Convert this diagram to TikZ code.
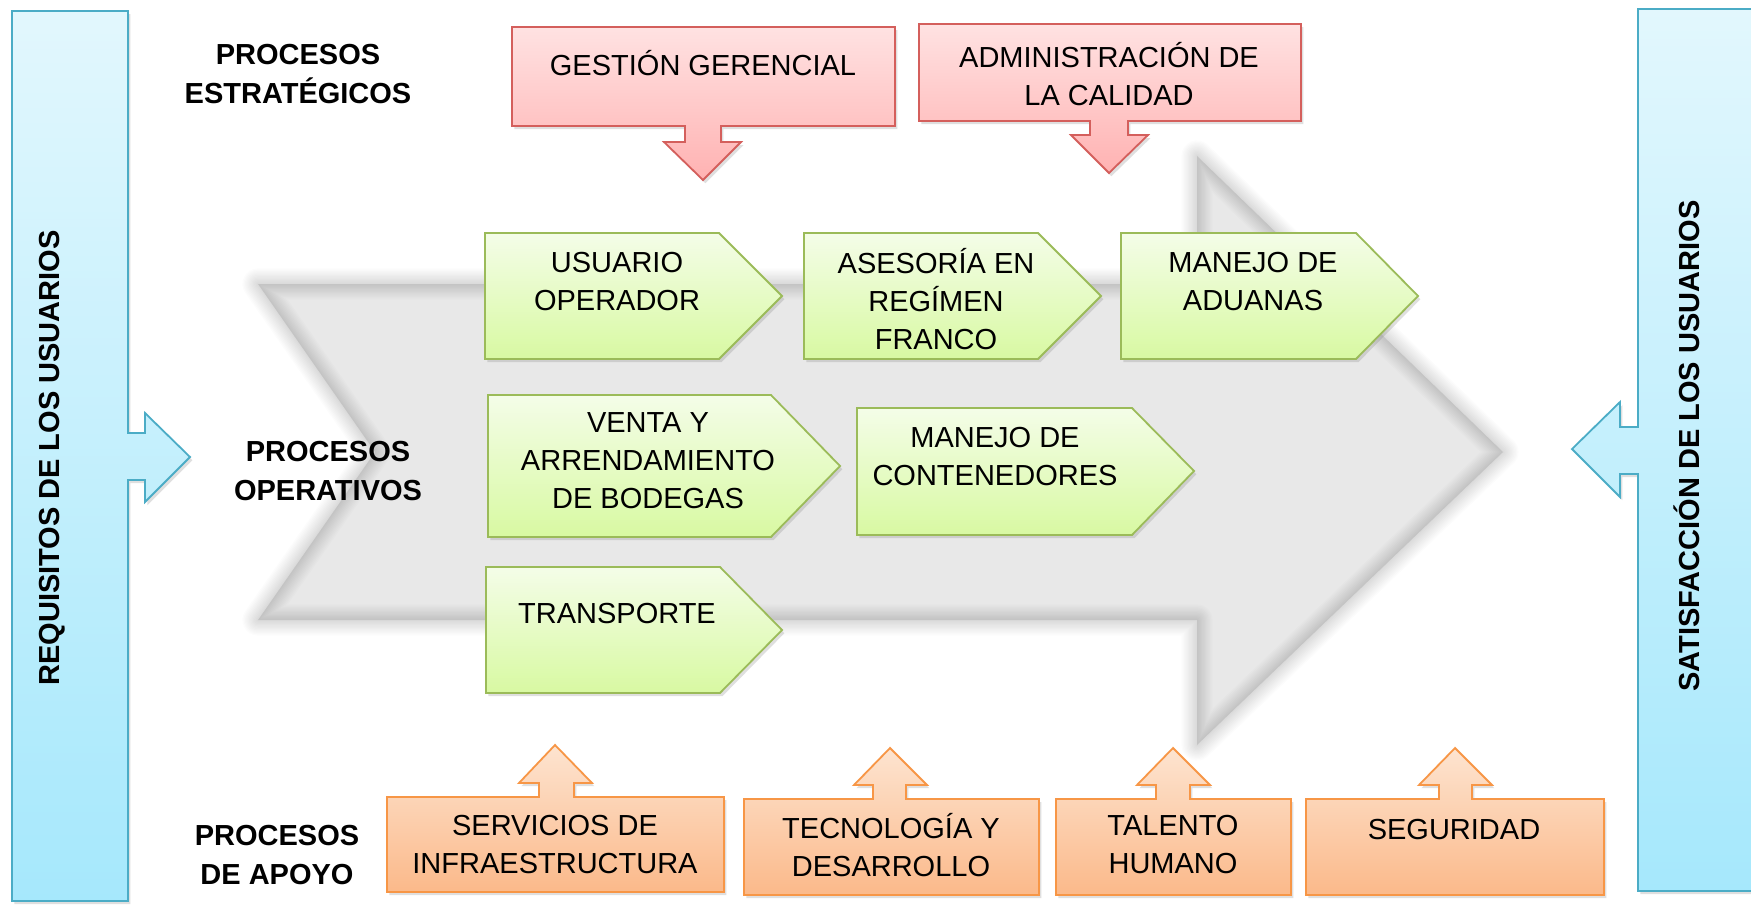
\documentclass[tikz,border=0pt]{standalone}
\usepackage{fontspec}
\setmainfont{Liberation Sans}
\usetikzlibrary{shadows}
\definecolor{redB}{RGB}{212,95,92}
\definecolor{redT}{RGB}{255,226,226}
\definecolor{redBt}{RGB}{255,178,178}
\definecolor{grnB}{RGB}{155,187,89}
\definecolor{grnT}{RGB}{244,253,232}
\definecolor{grnBt}{RGB}{216,249,162}
\definecolor{orgB}{RGB}{247,150,70}
\definecolor{orgT}{RGB}{253,228,208}
\definecolor{orgBt}{RGB}{251,185,138}
\definecolor{bluB}{RGB}{75,172,198}
\definecolor{bluT}{RGB}{226,247,253}
\definecolor{bluBt}{RGB}{166,232,252}
\definecolor{bgarrow}{RGB}{232,232,232}
\tikzset{
  shd/.style={drop shadow={opacity=0.25, shadow xshift=1.2pt, shadow yshift=-1.6pt}},
  redbox/.style={shd, draw=redB, line width=0.9pt, top color=redT, bottom color=redBt},
  grnbox/.style={shd, draw=grnB, line width=0.9pt, top color=grnT, bottom color=grnBt},
  orgbox/.style={shd, draw=orgB, line width=0.9pt, top color=orgT, bottom color=orgBt},
  blubox/.style={shd, draw=bluB, line width=0.9pt, top color=bluT, bottom color=bluBt},
  txt/.style={inner sep=0pt, align=center, font=\fontsize{14.5}{19}\selectfont},
  lbl/.style={inner sep=0pt, align=center, font=\fontsize{14.5}{19.5}\selectfont\bfseries},
}
\begin{document}
\begin{tikzpicture}[x=0.5pt,y=-0.5pt]
\useasboundingbox (0,0) rectangle (1751,906);
\fill[white] (0,0) rectangle (1751,906);

% big background arrow with soft edge
\fill[bgarrow] (258,284) -- (1197,284) -- (1197,156) -- (1503,452) -- (1197,745) -- (1197,620) -- (258,620) -- (375,452) -- cycle;
\foreach \w in {12,11,...,1} {
  \draw[black, opacity=0.013, line width=\w*1.3pt, line join=round]
    (258,284) -- (1197,284) -- (1197,156) -- (1503,452) -- (1197,745) -- (1197,620) -- (258,620) -- (375,452) -- cycle;
}

% blue side bars
\path[blubox] (12,11) -- (128,11) -- (128,433) -- (145,433) -- (145,413) -- (190,457) -- (145,502) -- (145,480) -- (128,480) -- (128,901) -- (12,901) -- cycle;
\path[blubox] (1638,9) -- (1760,9) -- (1760,891) -- (1638,891) -- (1638,474) -- (1620,474) -- (1620,497) -- (1572,449) -- (1620,402) -- (1620,427) -- (1638,427) -- cycle;
\node[lbl, rotate=90] (req) at (52,458) {REQUISITOS DE LOS USUARIOS};
\node[lbl, rotate=90] (sat) at (1687,446) {SATISFACCIÓN DE LOS USUARIOS};

% strategic
\node[lbl] (lstr) at (298,74) {PROCESOS\\ESTRATÉGICOS};
\path[redbox] (512,27) -- (895,27) -- (895,126) -- (721,126) -- (721,142) -- (741,142) -- (703,180) -- (664,142) -- (685,142) -- (685,126) -- (512,126) -- cycle;
\node[txt] (gest) at (703,63) {GESTIÓN GERENCIAL};
\path[redbox] (919,24) -- (1301,24) -- (1301,121) -- (1128,121) -- (1128,135) -- (1148,135) -- (1109,173) -- (1071,135) -- (1090,135) -- (1090,121) -- (919,121) -- cycle;
\node[txt] (adm) at (1109,74) {ADMINISTRACIÓN DE\\LA CALIDAD};

% operative
\node[lbl] (lop) at (328,471) {PROCESOS\\OPERATIVOS};
\path[grnbox] (485,233) -- (719,233) -- (782,296) -- (719,359) -- (485,359) -- cycle;
\node[txt] (usu) at (617,282) {USUARIO\\OPERADOR};
\path[grnbox] (804,233) -- (1038,233) -- (1101,296) -- (1038,359) -- (804,359) -- cycle;
\node[txt] (ase) at (936,299) {ASESORÍA EN\\REGÍMEN\\FRANCO};
\path[grnbox] (1121,233) -- (1356,233) -- (1418,296) -- (1356,359) -- (1121,359) -- cycle;
\node[txt] (adu) at (1253,282) {MANEJO DE\\ADUANAS};
\path[grnbox] (488,395) -- (771,395) -- (840,466) -- (771,537) -- (488,537) -- cycle;
\node[txt] (ven) at (648,461) {VENTA Y\\ARRENDAMIENTO\\DE BODEGAS};
\path[grnbox] (857,408) -- (1132,408) -- (1194,471) -- (1132,535) -- (857,535) -- cycle;
\node[txt] (con) at (995,457) {MANEJO DE\\CONTENEDORES};
\path[grnbox] (486,567) -- (720,567) -- (782,630) -- (720,693) -- (486,693) -- cycle;
\node[txt] (tra) at (617,614) {TRANSPORTE};

% support
\node[lbl] (lap) at (277,855) {PROCESOS\\DE APOYO};
\path[orgbox] (387,892) -- (387,797) -- (539,797) -- (539,783) -- (519,783) -- (555,745) -- (592,783) -- (574,783) -- (574,797) -- (724,797) -- (724,892) -- cycle;
\node[txt] (ser) at (555,845) {SERVICIOS DE\\INFRAESTRUCTURA};
\path[orgbox] (744,895) -- (744,799) -- (873,799) -- (873,785) -- (854,785) -- (890,748) -- (927,785) -- (906,785) -- (906,799) -- (1039,799) -- (1039,895) -- cycle;
\node[txt] (tec) at (891,845) {TECNOLOGÍA Y\\DESARROLLO};
\path[orgbox] (1056,895) -- (1056,799) -- (1156,799) -- (1156,785) -- (1137,785) -- (1173,748) -- (1210,785) -- (1190,785) -- (1190,799) -- (1291,799) -- (1291,895) -- cycle;
\node[txt] (tal) at (1173,845) {TALENTO\\HUMANO};
\path[orgbox] (1306,895) -- (1306,799) -- (1439,799) -- (1439,785) -- (1419,785) -- (1455,748) -- (1492,785) -- (1472,785) -- (1472,799) -- (1604,799) -- (1604,895) -- cycle;
\node[txt] (seg) at (1454,830) {SEGURIDAD};
\end{tikzpicture}
\end{document}
